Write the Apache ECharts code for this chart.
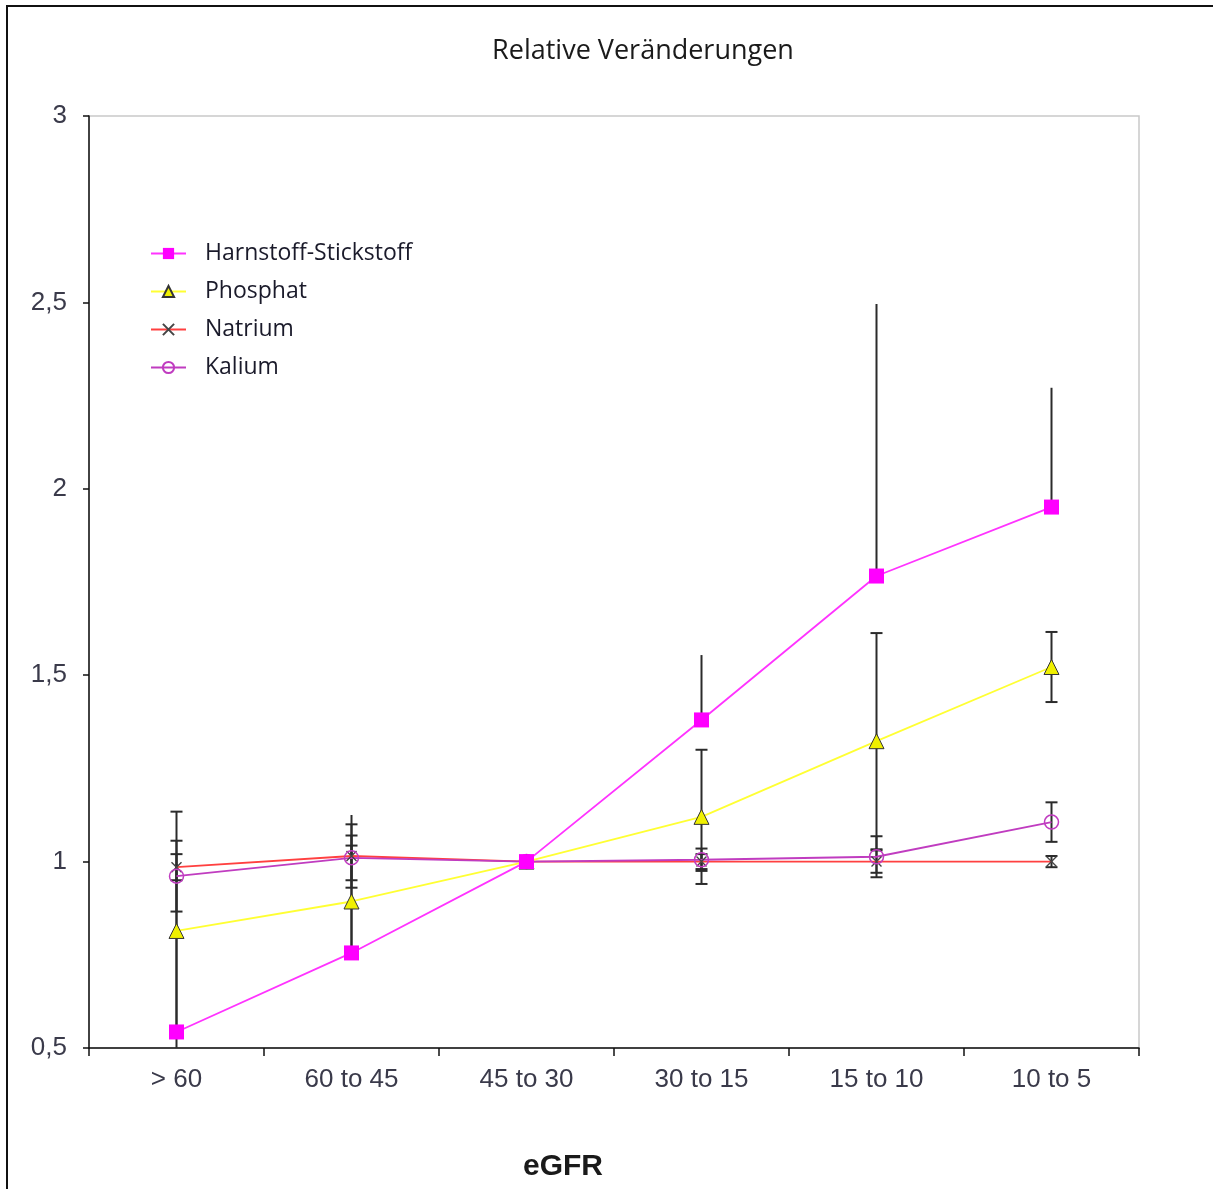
<!DOCTYPE html>
<html>
<head>
<meta charset="utf-8">
<script src="https://cdn.jsdelivr.net/npm/echarts@6/dist/echarts.min.js"></script>
<style>
  html, body { margin: 0; padding: 0; background: #fff; }
  #frame { position: absolute; left: 6px; top: 5px; width: 1220px; height: 1200px;
           border-left: 2px solid #111; border-top: 2px solid #111; box-sizing: border-box; }
  #chart { position: absolute; left: 0; top: 0; width: 1213px; height: 1189px; }
</style>
</head>
<body>
<div id="frame"></div>
<div id="chart"></div>
<script>
// eGFR groups (ml/min)
const categories = ['> 60', '60 to 45', '45 to 30', '30 to 15', '15 to 10', '10 to 5'];
const yTicks = ['0,5', '1', '1,5', '2', '2,5', '3'];

// relative values, normalised to the 45-30 group
const harnstoff = [0.543, 0.755, 1.0, 1.38, 1.766, 1.951];
const phosphat  = [0.814, 0.893, 1.0, 1.12, 1.323, 1.522];
const natrium   = [0.985, 1.015, 1.0, 1.0, 1.0, 1.0];
const kalium    = [0.961, 1.01, 1.0, 1.005, 1.013, 1.106];

// error bar sizes (upper only for Harnstoff, symmetric for the others)
const harnstoffErrUp = [0.45, 0.37, 0.0, 0.174, 0.73, 0.32];
const phosphatErr    = [0.32, 0.15, 0.0, 0.18, 0.29, 0.094];
const natriumErr     = [0.035, 0.085, 0.0, 0.02, 0.03, 0.015];
const kaliumErr      = [0.095, 0.06, 0.0, 0.03, 0.055, 0.053];

function errRows(values, up, down) {
  return values.map((v, i) => [i, v - down[i], v + up[i]]);
}
const zeros = categories.map(() => 0);

function errorSeries(rows, withCaps) {
  return {
    type: 'custom',
    clip: true,
    z: 1,
    silent: true,
    data: rows,
    renderItem: function (params, api) {
      if (api.value(1) === api.value(2)) return null;
      const lo = api.coord([api.value(0), api.value(1)]);
      const hi = api.coord([api.value(0), api.value(2)]);
      const style = { stroke: '#2b2b2b', lineWidth: 2 };
      const kids = [{ type: 'line', shape: { x1: lo[0], y1: lo[1], x2: hi[0], y2: hi[1] }, style: style }];
      if (withCaps) {
        const w = 6;
        kids.push({ type: 'line', shape: { x1: hi[0] - w, y1: hi[1], x2: hi[0] + w, y2: hi[1] }, style: style });
        kids.push({ type: 'line', shape: { x1: lo[0] - w, y1: lo[1], x2: lo[0] + w, y2: lo[1] }, style: style });
      }
      return { type: 'group', children: kids };
    }
  };
}

const labelFont = "'Liberation Sans Narrow', 'Liberation Sans', Arial, sans-serif";

const chart = echarts.init(document.getElementById('chart'), null, { renderer: 'canvas' });
chart.setOption({
  animation: false,
  backgroundColor: 'transparent',
  grid: {
    left: 89, top: 116, width: 1050, height: 932,
    show: true, borderColor: '#c9c9c9', borderWidth: 1.5,
    outerBoundsMode: 'none'
  },
  graphic: [
    { type: 'text', x: 643, y: 51, style: {
        text: 'Relative Veränderungen', textAlign: 'center', textVerticalAlign: 'middle',
        font: "27px 'Open Sans', 'Noto Sans', sans-serif", fill: '#1a1a1a' } },
    { type: 'text', x: 563, y: 1167, style: {
        text: 'eGFR', textAlign: 'center', textVerticalAlign: 'middle',
        font: "bold 30px 'Liberation Sans', Arial, sans-serif", fill: '#1a1a1a' } }
  ],
  legend: {
    orient: 'vertical', left: 145, top: 237,
    itemWidth: 35, itemHeight: 14, itemGap: 15,
    textStyle: { fontFamily: "'Open Sans', 'Noto Sans', sans-serif", fontSize: 23, color: '#1a1a2a', padding: [0, 0, 0, 14] },
    data: ['Harnstoff-Stickstoff', 'Phosphat', 'Natrium', 'Kalium']
  },
  xAxis: {
    type: 'category', data: categories, boundaryGap: true,
    axisLine: { lineStyle: { color: '#111', width: 1.5 } },
    axisTick: { show: true, length: 8, alignWithLabel: false, lineStyle: { color: '#111', width: 1.5 } },
    axisLabel: { margin: 19, fontFamily: labelFont, fontSize: 26, color: '#3a3a4a' },
    splitLine: { show: false }
  },
  yAxis: {
    type: 'value', min: 0.5, max: 3, interval: 0.5,
    axisLine: { show: true, lineStyle: { color: '#111', width: 1.5 } },
    axisTick: { show: true, length: 6, lineStyle: { color: '#111', width: 1.5 } },
    axisLabel: { margin: 22, fontFamily: labelFont, fontSize: 26, color: '#3a3a4a',
      formatter: function (v) { return yTicks[Math.round((v - 0.5) / 0.5)]; } },
    splitLine: { show: false }
  },
  series: [
    errorSeries(errRows(harnstoff, harnstoffErrUp, zeros), false),
    errorSeries(errRows(phosphat, phosphatErr, phosphatErr), true),
    errorSeries(errRows(natrium, natriumErr, natriumErr), true),
    errorSeries(errRows(kalium, kaliumErr, kaliumErr), true),
    {
      name: 'Natrium', type: 'line', data: natrium, z: 3,
      symbol: 'path://M0 0L10 10M10 0L0 10', symbolSize: 10,
      lineStyle: { color: '#ff4040', width: 1.8 },
      itemStyle: { color: 'rgba(0,0,0,0)', borderColor: '#444', borderWidth: 1.4 }
    },
    {
      name: 'Kalium', type: 'line', data: kalium, z: 3,
      symbol: 'circle', symbolSize: 14,
      lineStyle: { color: '#c03cc0', width: 1.8 },
      itemStyle: { color: 'rgba(255,255,255,0)', borderColor: '#c03cc0', borderWidth: 1.5 }
    },
    {
      name: 'Phosphat', type: 'line', data: phosphat, z: 4,
      symbol: 'triangle', symbolSize: 15,
      lineStyle: { color: '#ffff33', width: 1.8 },
      itemStyle: { color: '#f0f000', borderColor: '#333', borderWidth: 1 }
    },
    {
      name: 'Harnstoff-Stickstoff', type: 'line', data: harnstoff, z: 5,
      symbol: 'rect', symbolSize: 15,
      lineStyle: { color: '#ff33ff', width: 1.8 },
      itemStyle: { color: '#ff00ff', borderWidth: 0 }
    }
  ]
});
</script>
</body>
</html>
